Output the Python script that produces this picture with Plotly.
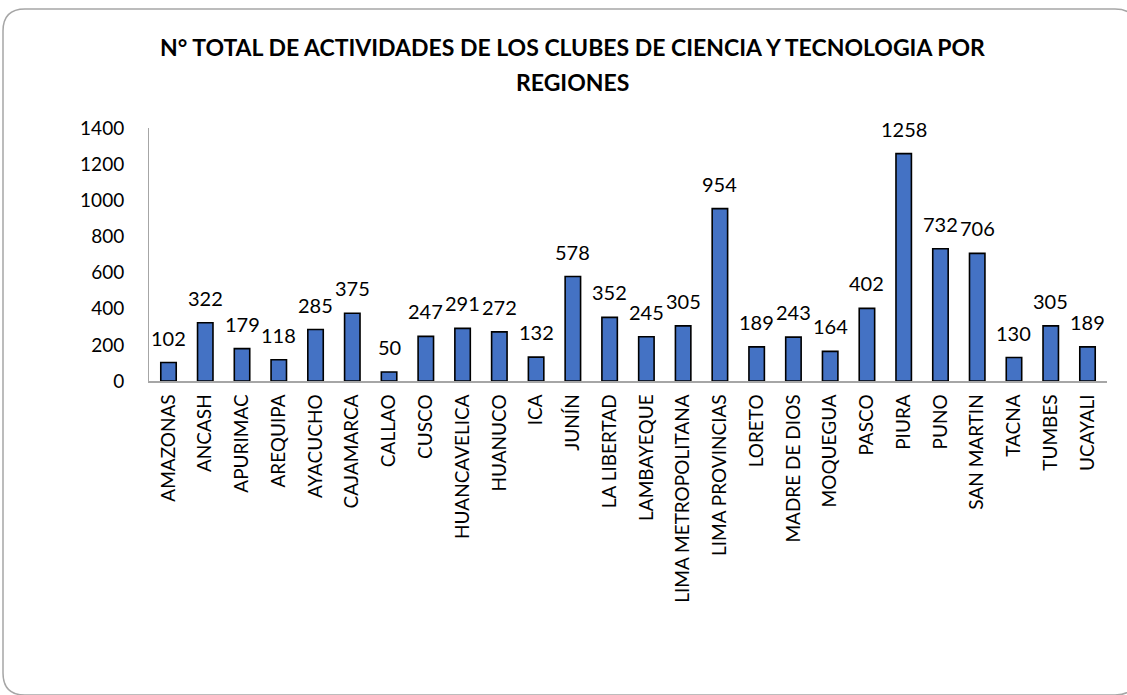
import plotly.graph_objects as go

regiones = ["AMAZONAS", "ANCASH", "APURIMAC", "AREQUIPA", "AYACUCHO", "CAJAMARCA",
            "CALLAO", "CUSCO", "HUANCAVELICA", "HUANUCO", "ICA", "JUNÍN",
            "LA LIBERTAD", "LAMBAYEQUE", "LIMA METROPOLITANA", "LIMA PROVINCIAS",
            "LORETO", "MADRE DE DIOS", "MOQUEGUA", "PASCO", "PIURA", "PUNO",
            "SAN MARTIN", "TACNA", "TUMBES", "UCAYALI"]
actividades = [102, 322, 179, 118, 285, 375, 50, 247, 291, 272, 132, 578,
               352, 245, 305, 954, 189, 243, 164, 402, 1258, 732, 706, 130, 305, 189]
y_ticks = [0, 200, 400, 600, 800, 1000, 1200, 1400]
titulo = ["N° TOTAL DE ACTIVIDADES DE LOS CLUBES DE CIENCIA Y TECNOLOGIA POR", "REGIONES"]

W, H = 1127, 695
ML, MR, MT, MB = 149, 20, 128, 314
PW, PH = W - ML - MR, H - MT - MB
FONT = "Lato, 'Noto Sans', sans-serif"


def px(x):
    return (x - ML) / PW


def py(y):
    return (H - MB - y) / PH


fig = go.Figure()
fig.add_trace(go.Bar(
    x=regiones, y=actividades,
    marker=dict(color="#4472C4", line=dict(color="#000000", width=1.6)),
    cliponaxis=False, hoverinfo="x+y",
))

# data labels above bars
for reg, val in zip(regiones, actividades):
    fig.add_annotation(x=reg, y=val, xref="x", yref="y", text=str(val),
                       showarrow=False, yanchor="bottom", yshift=11,
                       font=dict(size=20, color="#000000", family=FONT))

# title lines
for line, ypos in zip(titulo, [47, 82]):
    fig.add_annotation(x=px(572), y=py(ypos), xref="paper", yref="paper", text=line,
                       showarrow=False, xanchor="center", yanchor="middle",
                       font=dict(size=23, color="#000000", family=FONT, weight="bold"))

# rounded border of the chart area (right and bottom edges run just off the picture)
x0, x1, y0, y1, r = 3, 1137, 9, 695, 22
path = (f"M {px(x0+r)},{py(y0)} L {px(x1-r)},{py(y0)} Q {px(x1)},{py(y0)} {px(x1)},{py(y0+r)} "
        f"L {px(x1)},{py(y1-r)} Q {px(x1)},{py(y1)} {px(x1-r)},{py(y1)} "
        f"L {px(x0+r)},{py(y1)} Q {px(x0)},{py(y1)} {px(x0)},{py(y1-r)} "
        f"L {px(x0)},{py(y0+r)} Q {px(x0)},{py(y0)} {px(x0+r)},{py(y0)} Z")
fig.add_shape(type="path", path=path, xref="paper", yref="paper",
              line=dict(color="#A6A6A6", width=1.5), layer="below")

fig.update_layout(
    width=W, height=H,
    margin=dict(l=ML, r=MR, t=MT, b=MB),
    paper_bgcolor="white", plot_bgcolor="white",
    showlegend=False,
    bargap=0.58,
    font=dict(family=FONT, color="#000000"),
)
fig.update_xaxes(showline=True, linecolor="#A6A6A6", linewidth=1.5, showgrid=False,
                 tickangle=-90, tickfont=dict(size=19, family=FONT, color="#000000"),
                 ticks="", ticklabelstandoff=4)
fig.update_yaxes(range=[0, 1400], tickvals=y_ticks, showline=True, linecolor="#A6A6A6",
                 linewidth=1, showgrid=False, zeroline=False, ticks="",
                 tickfont=dict(size=19, family=FONT, color="#000000"), ticklabelstandoff=20)

fig.write_html("out.html", config={"displayModeBar": False},
               post_script="document.body.style.margin='0';document.body.style.overflow='hidden';")
